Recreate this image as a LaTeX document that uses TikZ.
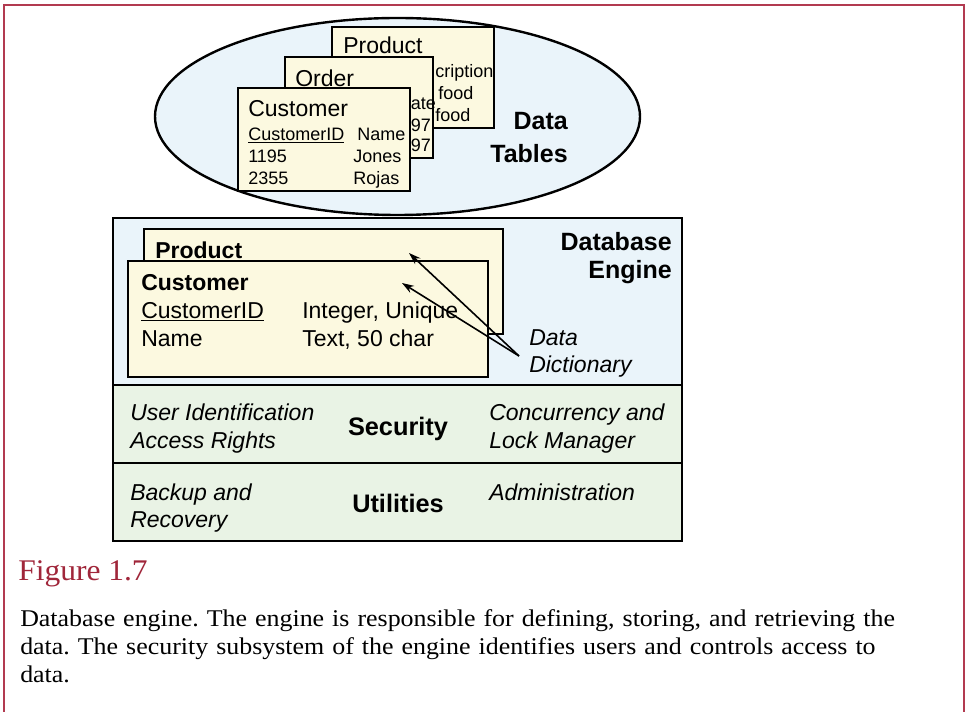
\documentclass[tikz,border=0pt]{standalone}
\usepackage{fontspec}
\setmainfont{Liberation Sans}
\newfontfamily\capfont[FakeStretch=1.08]{Liberation Serif}
\newfontfamily\figfont[FakeStretch=1.05]{Liberation Serif}
\usetikzlibrary{shapes.geometric,arrows.meta}
\definecolor{framered}{RGB}{178,58,80}
\definecolor{capred}{RGB}{160,38,58}
\definecolor{skyfill}{RGB}{234,244,250}
\definecolor{cardfill}{RGB}{252,249,224}
\definecolor{greenfill}{RGB}{233,243,229}
\begin{document}
\frenchspacing
\begin{tikzpicture}[x=0.75pt,y=-0.75pt,
  card/.style={rectangle, draw=black, fill=cardfill, line width=2.2pt, inner sep=0pt},
  band/.style={rectangle, draw=black, line width=1.8pt, inner sep=0pt, minimum width=426.75pt},
  sm/.style={inner sep=0pt, font=\fontsize{13.5}{15}\selectfont, text height=9.7pt, text depth=0pt},
  big/.style={inner sep=0pt, font=\fontsize{17.25}{20}\selectfont, text height=12.4pt, text depth=0pt},
  bigb/.style={inner sep=0pt, font=\bfseries\fontsize{17.25}{20}\selectfont, text height=12.4pt, text depth=0pt},
  bigi/.style={inner sep=0pt, font=\itshape\fontsize{17.25}{20}\selectfont, text height=12.4pt, text depth=0pt},
  head/.style={inner sep=0pt, font=\bfseries\fontsize{18.75}{22}\selectfont, text height=13.5pt, text depth=0pt},
  arr/.style={line width=1.2pt, -{Stealth[length=9pt,width=6pt]}}
]
\useasboundingbox (0,0) rectangle (965,712);

% frame
\draw[framered, line width=1.6pt] (4,712) -- (4,5) -- (964,5) -- (964,712);

% ---------- Data tables ellipse ----------
\node[ellipse, draw=black, fill=skyfill, line width=1.8pt, inner sep=0pt,
      minimum width=363.75pt, minimum height=147.75pt] (tables) at (397.5,116.5) {};

\node[card, minimum width=121.5pt, minimum height=75.75pt] (tprod) at (413,77.5) {};
\node[big, anchor=west] (tprodt) at (343,45) {Product};
\node[sm, anchor=west] (tprod1) at (435,71) {cription};
\node[sm, anchor=west] (tprod2) at (438,93) {food};
\node[sm, anchor=west] (tprod3) at (435,115) {food};

\node[card, minimum width=111pt, minimum height=75.75pt] (tord) at (359,107.5) {};
\node[big, anchor=west] (tordt) at (295,78) {Order};
\node[sm, anchor=west] (tord1) at (410.5,103) {ate};
\node[sm, anchor=west] (tord2) at (410.5,125) {97};
\node[sm, anchor=west] (tord3) at (410.5,145) {97};

\node[card, minimum width=129pt, minimum height=77.25pt] (tcust) at (324,139.5) {};
\node[big, anchor=west] (tcustt) at (248,108) {Customer};
\node[sm, anchor=west] (tc1) at (248,134) {\underline{CustomerID}};
\node[sm, anchor=west] (tc2) at (357,134) {Name};
\node[sm, anchor=west] (tc3) at (248,156) {1195};
\node[sm, anchor=west] (tc4) at (353,156) {Jones};
\node[sm, anchor=west] (tc5) at (248,178) {2355};
\node[sm, anchor=west] (tc6) at (353,178) {Rojas};

\node[head, anchor=east] (dt1) at (568,121) {Data};
\node[head, anchor=east] (dt2) at (568,154) {Tables};

% ---------- Database engine ----------
\node[band, fill=skyfill, minimum height=125.25pt] (engine) at (397.5,301.5) {};
\node[band, fill=greenfill, minimum height=58.5pt] (security) at (397.5,424) {};
\node[band, fill=greenfill, minimum height=58.5pt] (utilities) at (397.5,502) {};

\node[card, minimum width=269.25pt, minimum height=78.75pt] (eprod) at (323.5,281.5) {};
\node[bigb, anchor=west] (eprodt) at (155,250) {Product};

\node[card, minimum width=270pt, minimum height=87pt] (ecust) at (308,319) {};
\node[bigb, anchor=west] (ecustt) at (141,282) {Customer};
\node[big, anchor=west] (ec1) at (141,310) {\underline{CustomerID}};
\node[big, anchor=west] (ec2) at (302,310) {Integer, Unique};
\node[big, anchor=west] (ec3) at (141,338) {Name};
\node[big, anchor=west] (ec4) at (302,338) {Text, 50 char};

\node[head, anchor=east] (de1) at (672,242) {Database};
\node[head, anchor=east] (de2) at (672,270) {Engine};

\node[bigi, anchor=west] (dd1) at (529,337) {Data};
\node[bigi, anchor=west] (dd2) at (529,364) {Dictionary};

\coordinate (ddpt) at (519,356);
\coordinate (aprod) at (409,253);
\coordinate (acust) at (402,283);
\draw[arr] (ddpt) -- (aprod);
\draw[arr] (ddpt) -- (acust);

% ---------- Security ----------
\node[bigi, anchor=west] (s1) at (130,412) {User Identification};
\node[bigi, anchor=west] (s2) at (130,440) {Access Rights};
\node[head, font=\bfseries\fontsize{19}{22}\selectfont] (s3) at (398,427) {Security};
\node[bigi, anchor=west] (s4) at (489,412) {Concurrency and};
\node[bigi, anchor=west] (s5) at (489,440) {Lock Manager};

% ---------- Utilities ----------
\node[bigi, anchor=west] (u1) at (130,492) {Backup and};
\node[bigi, anchor=west] (u2) at (130,519) {Recovery};
\node[head, font=\bfseries\fontsize{19}{22}\selectfont] (u3) at (398,504) {Utilities};
\node[bigi, anchor=west] (u4) at (489,492) {Administration};

% ---------- Caption ----------
\node[anchor=base west, inner sep=0pt, text=capred, font=\figfont\fontsize{22.5}{26}\selectfont] (figtitle) at (18,581) {Figure 1.7};
\node[anchor=base west, inner sep=0pt, align=left, text width=720pt,
      font=\capfont\fontsize{18}{21}\selectfont] (captext) at (20,627)
  {Database engine. The engine is responsible for defining, storing, and retrieving the\\
   data. The security subsystem of the engine identifies users and controls access to\\
   data.};
\end{tikzpicture}
\end{document}
